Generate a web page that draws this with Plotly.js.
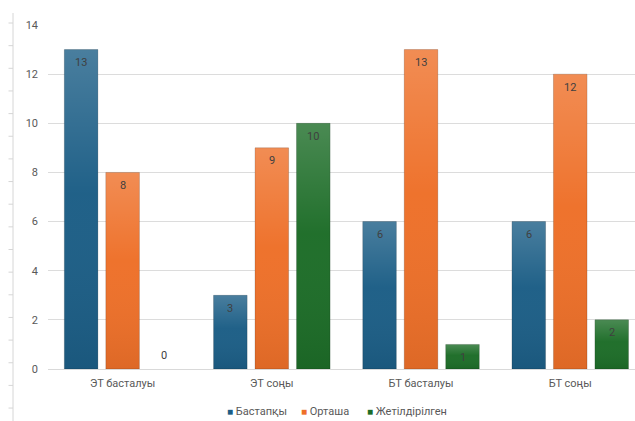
<!DOCTYPE html>
<html>
<head>
<meta charset="utf-8">
<script src="https://cdn.plot.ly/plotly-3.0.1.min.js"></script>
<style>html,body{margin:0;padding:0;background:#fff;}#chart{width:635px;height:421px;}</style>
</head>
<body>
<div id="chart"></div>
<script>
const categories = ["ЭТ басталуы", "ЭТ соңы", "БТ басталуы", "БТ соңы"];
const seriesNames = ["Бастапқы", "Орташа", "Жетілдірілген"];
const bastapky = [13, 3, 6, 6];
const ortasha = [8, 9, 13, 12];
const zhetildirilgen = [0, 10, 1, 2];
const yTicks = [0, 2, 4, 6, 8, 10, 12, 14];

const series = [bastapky, ortasha, zhetildirilgen];
const colors = ["#1c5e86", "#ee7029", "#1d6d28"];
const W = 635, H = 421, L = 48, R = 0, T = 25, B = 52;
const pw = W - L - R, ph = H - T - B;
const xRange = [-0.5, 3.434];
const bargap = 0.166, bargroupgap = 0.19;
const catPx = pw / (xRange[1] - xRange[0]);
const slotPx = catPx * (1 - bargap) / 3;

const data = series.map((vals, i) => ({
  type: "bar", x: categories, y: vals, name: seriesNames[i],
  marker: {color: colors[i], line: {color: "rgba(0,0,0,0.16)", width: vals.map(v => v === 0 ? 0 : 1)}},
  hoverinfo: "skip", showlegend: false
}));

// per-bar gradient sheen (overlay image scaled to each bar via data axes)
const sheen = "data:image/svg+xml;charset=utf-8," + encodeURIComponent(
  "<svg xmlns='http://www.w3.org/2000/svg' width='10' height='100' viewBox='0 0 10 100' preserveAspectRatio='none'>" +
  "<defs><linearGradient id='g' x1='0' y1='0' x2='0' y2='1'>" +
  "<stop offset='0' stop-color='#ffffff' stop-opacity='0.2'/>" +
  "<stop offset='0.45' stop-color='#ffffff' stop-opacity='0.02'/>" +
  "<stop offset='1' stop-color='#000000' stop-opacity='0.07'/>" +
  "</linearGradient></defs><rect x='0' y='0' width='10' height='100' fill='url(#g)'/></svg>");
const images = [];
series.forEach((vals, i) => {
  vals.forEach((v, j) => {
    if (v <= 0) return;
    images.push({
      source: sheen, xref: "x", yref: "y",
      x: j + (i - 1) * slotPx / catPx, y: v, xanchor: "center", yanchor: "top",
      sizex: slotPx * (1 - bargroupgap) / catPx, sizey: v, sizing: "stretch", layer: "above", opacity: 1
    });
  });
});

const annotations = [];
series.forEach((vals, i) => {
  vals.forEach((v, j) => {
    annotations.push({
      x: categories[j], y: v, xref: "x", yref: "y", text: String(v), showarrow: false,
      xshift: (i - 1) * slotPx, yshift: v === 0 ? 14 : -13, yanchor: "middle",
      font: {family: "Roboto, sans-serif", size: 11, color: "#404040"}
    });
  });
});

// legend drawn as annotations
const legendX = [225, 299, 365];
const px = x => (x - L) / pw;
const py = y => (H - B - y) / ph;
seriesNames.forEach((n, i) => {
  annotations.push({
    xref: "paper", yref: "paper", x: px(legendX[i]), y: py(411), xanchor: "left", yanchor: "middle",
    showarrow: false,
    text: '<span style="color:' + colors[i] + ';font-size:10px">■</span> ' + n,
    font: {family: "Roboto, sans-serif", size: 11, color: "#595959"}
  });
});

// decorative ruler at left edge
const shapes = [];
shapes.push({type: "line", xref: "paper", yref: "paper", x0: px(13), x1: px(13), y0: py(13), y1: py(421), line: {color: "#d6d6d6", width: 1}});
for (let y = 23; y < 421; y += 22.65) {
  shapes.push({type: "line", xref: "paper", yref: "paper", x0: px(8.5), x1: px(13), y0: py(y), y1: py(y), line: {color: "#d6d6d6", width: 1}});
}

const layout = {
  width: W, height: H,
  margin: {l: L, r: R, t: T, b: B, pad: 0},
  paper_bgcolor: "#fff", plot_bgcolor: "#fff",
  font: {family: "Roboto, sans-serif", size: 11, color: "#595959"},
  barmode: "group", bargap: bargap, bargroupgap: bargroupgap,
  showlegend: false,
  xaxis: {type: "category", range: xRange, showgrid: false, showline: false, zeroline: false, automargin: false,
          ticks: "", ticklabelstandoff: 6, tickfont: {size: 11, color: "#595959"}, fixedrange: true},
  yaxis: {range: [0, 14], tickvals: yTicks, ticktext: yTicks.map(String), showgrid: true, gridcolor: "#dcdcdc",
          gridwidth: 1, zeroline: true, zerolinecolor: "#d9d9d9", zerolinewidth: 1, showline: false, automargin: false,
          ticks: "", ticklabelstandoff: 9, tickfont: {size: 11, color: "#595959"}, fixedrange: true},
  annotations: annotations,
  images: images,
  shapes: shapes
};
Plotly.newPlot("chart", data, layout, {displayModeBar: false, staticPlot: true});
</script>
</body>
</html>
